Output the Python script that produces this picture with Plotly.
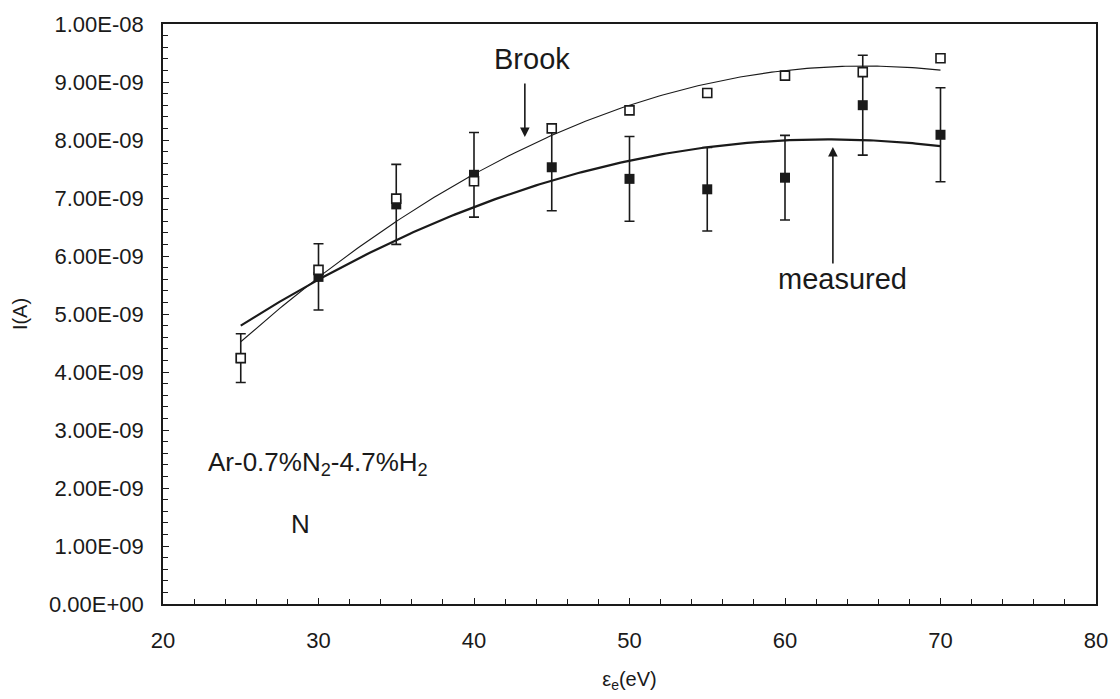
import numpy as np
import plotly.graph_objects as go

# ---- data ----
energy_ev = [25, 30, 35, 40, 45, 50, 55, 60, 65, 70]
measured = [4.24e-9, 5.64e-9, 6.89e-9, 7.40e-9, 7.53e-9, 7.33e-9, 7.15e-9, 7.35e-9, 8.60e-9, 8.09e-9]
measured_err = [0.42e-9, 0.57e-9, 0.69e-9, 0.73e-9, 0.75e-9, 0.73e-9, 0.72e-9, 0.73e-9, 0.86e-9, 0.81e-9]
brook = [4.24e-9, 5.76e-9, 6.99e-9, 7.29e-9, 8.20e-9, 8.51e-9, 8.81e-9, 9.11e-9, 9.17e-9, 9.41e-9]

y_tick_vals = [0, 1e-9, 2e-9, 3e-9, 4e-9, 5e-9, 6e-9, 7e-9, 8e-9, 9e-9, 1e-8]
y_tick_text = ["0.00E+00", "1.00E-09", "2.00E-09", "3.00E-09", "4.00E-09", "5.00E-09",
               "6.00E-09", "7.00E-09", "8.00E-09", "9.00E-09", "1.00E-08"]
x_tick_vals = [20, 30, 40, 50, 60, 70, 80]

FONT = "Liberation Sans, Arial, sans-serif"
INK = "#1a1a1a"

# polynomial (2nd order) trendlines, as in the original spreadsheet chart
xs = np.linspace(min(energy_ev), max(energy_ev), 200)
fit_meas = np.polyval(np.polyfit(energy_ev, measured, 2), xs)
fit_brook = np.polyval(np.polyfit(energy_ev, brook, 2), xs)

fig = go.Figure()
fig.add_trace(go.Scatter(x=xs, y=fit_meas, mode="lines",
                         line=dict(color=INK, width=2.2), showlegend=False, hoverinfo="skip"))
fig.add_trace(go.Scatter(x=xs, y=fit_brook, mode="lines",
                         line=dict(color=INK, width=1.1), showlegend=False, hoverinfo="skip"))
fig.add_trace(go.Scatter(x=energy_ev, y=measured, mode="markers", name="measured",
                         marker=dict(symbol="square", size=10, color=INK),
                         error_y=dict(type="data", array=measured_err, visible=True,
                                      thickness=1.6, width=5, color=INK),
                         showlegend=False))
fig.add_trace(go.Scatter(x=energy_ev, y=brook, mode="markers", name="Brook",
                         marker=dict(symbol="square", size=9, color="white",
                                     line=dict(color=INK, width=1.6)),
                         showlegend=False))

annotations = [
    dict(x=43.27, y=8.05e-9, ax=0, ay=-55, text="", showarrow=True, arrowhead=2,
         arrowsize=1.2, arrowwidth=1.6, arrowcolor=INK),
    dict(x=63.08, y=7.88e-9, ax=0, ay=118, text="", showarrow=True, arrowhead=2,
         arrowsize=1.2, arrowwidth=1.6, arrowcolor=INK),
    dict(x=43.7, y=9.40e-9, text="Brook", showarrow=False,
         font=dict(family=FONT, size=29, color=INK)),
    dict(x=63.7, y=5.60e-9, text="measured", showarrow=False,
         font=dict(family=FONT, size=29, color=INK)),
    dict(x=22.76, y=2.43e-9, text="Ar-0.7%N<sub>2</sub>-4.7%H<sub>2</sub>", showarrow=False,
         xanchor="left", font=dict(family=FONT, size=26, color=INK)),
    dict(x=28.85, y=1.375e-9, text="N", showarrow=False,
         font=dict(family=FONT, size=26, color=INK)),
]

fig.update_layout(
    width=1120, height=699,
    margin=dict(l=163, r=21, t=16, b=94),
    paper_bgcolor="white", plot_bgcolor="white",
    font=dict(family=FONT, size=22, color=INK),
    annotations=annotations,
)
fig.update_xaxes(
    range=[20, 80], tickvals=x_tick_vals, ticks="inside", ticklen=6, tickwidth=1.3,
    tickcolor=INK, showline=True, linecolor=INK, linewidth=1.6, mirror=True,
    showgrid=False, zeroline=False, ticklabelstandoff=16,
    tickfont=dict(family=FONT, size=22, color=INK),
    minor=dict(dtick=2, ticks="inside", ticklen=5, tickwidth=1, tickcolor=INK, showgrid=False),
    title=dict(text="ε<sub>e</sub>(eV)", font=dict(family=FONT, size=20, color=INK), standoff=20),
)
fig.update_yaxes(
    range=[0, 1e-8], tickvals=y_tick_vals, ticktext=y_tick_text, ticks="inside", ticklen=6,
    tickwidth=1.3, tickcolor=INK, showline=True, linecolor=INK, linewidth=1.6, mirror=True,
    showgrid=False, zeroline=False, ticklabelstandoff=13,
    tickfont=dict(family=FONT, size=22, color=INK),
    minor=dict(tickvals=[i * 2e-10 for i in range(51)], ticks="inside", ticklen=5,
               tickwidth=1, tickcolor=INK, showgrid=False),
    title=dict(text="I(A)", font=dict(family=FONT, size=20, color=INK), standoff=16),
)

fig.write_html("out.html")
